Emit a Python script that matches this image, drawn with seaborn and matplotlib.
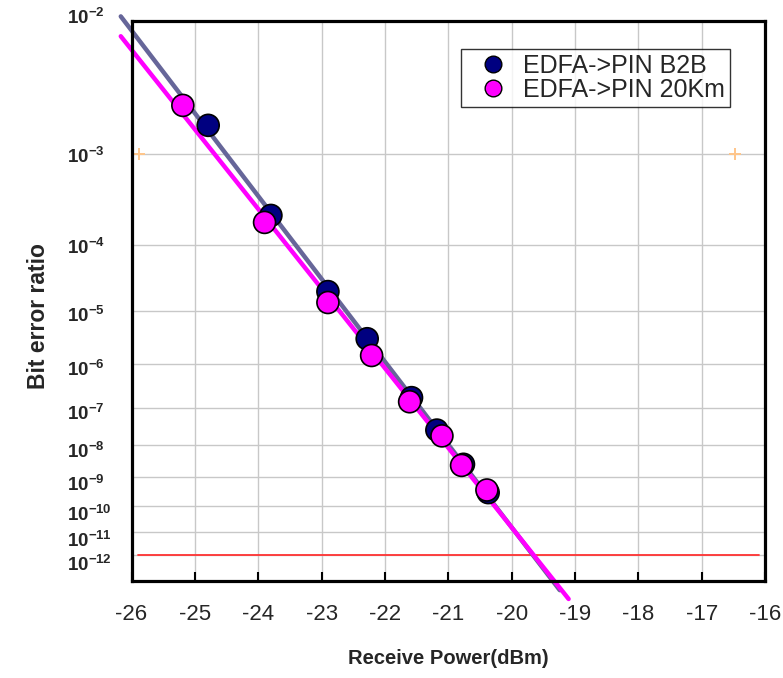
import numpy as np
import pandas as pd
import matplotlib
matplotlib.use("Agg")
import matplotlib.pyplot as plt
import matplotlib.transforms as mtransforms
from matplotlib.lines import Line2D
import seaborn as sns
from math import erfc, sqrt

# %%
# measured points read from the figure
power_b2b = [-24.79, -23.80, -22.90, -22.28, -21.58, -21.18, -20.76, -20.37]
ber_b2b = [1.8e-3, 2.3e-4, 2.1e-5, 3.2e-6, 1.76e-7, 2.6e-8, 2.6e-9, 3.0e-10]
power_20km = [-25.19, -23.90, -22.90, -22.21, -21.61, -21.10, -20.79, -20.39]
ber_20km = [2.6e-3, 1.9e-4, 1.4e-5, 1.5e-6, 1.4e-7, 1.8e-8, 2.4e-9, 3.7e-10]
series_names = ["EDFA->PIN B2B", "EDFA->PIN 20Km"]
series_colors = ["#000080", "#ff00ff"]
line_colors = ["#666699", "#ff00ff"]

# fit line extents (dBm)
fit_start = [-26.17, -26.17]
fit_end = [-19.24, -19.1]

x_ticks = list(range(-26, -15))
y_exps = list(range(2, 13))
ber_limit = 1e-12
limit_span = [-25.9, -16.1]
stray_x = [-25.885, -16.47]
stray_y = [1e-3, 1e-3]

# %%
# BER axis: -log10 of Q factor (increasing with BER)
q_grid = np.linspace(0.3, 12, 6000)
ber_grid = 0.5 * np.array([erfc(q / sqrt(2)) for q in q_grid])
v_erfc = np.vectorize(erfc)


def ber_to_t(b):
    b = np.clip(np.asarray(b, dtype=float), 1e-30, 0.45)
    q = np.interp(-np.log10(b), -np.log10(ber_grid), q_grid)
    return -np.log10(q)


def t_to_ber(t):
    q = 10 ** (-np.asarray(t, dtype=float))
    return 0.5 * v_erfc(q / sqrt(2))


# %%
df = pd.concat([
    pd.DataFrame({"power": power_b2b, "ber": ber_b2b, "series": series_names[0]}),
    pd.DataFrame({"power": power_20km, "ber": ber_20km, "series": series_names[1]}),
], ignore_index=True)

sns.set_theme(style="white")
plt.rcParams["font.family"] = ["Liberation Sans", "DejaVu Sans"]
plt.rcParams["mathtext.fontset"] = "custom"
plt.rcParams["mathtext.rm"] = "Liberation Sans"
plt.rcParams["mathtext.bf"] = "Liberation Sans:bold"

fig, ax = plt.subplots(figsize=(7.83, 6.78), dpi=100)
fig.subplots_adjust(left=0.168, right=0.977, top=0.9695, bottom=0.1435)

ax.set_yscale("function", functions=(ber_to_t, t_to_ber))

# fitted trend lines (straight in the Q scale)
for i, (pw, br) in enumerate([(power_b2b, ber_b2b), (power_20km, ber_20km)]):
    coef = np.polyfit(pw, ber_to_t(br), 1)
    xs = np.linspace(fit_start[i], fit_end[i], 60)
    fit_df = pd.DataFrame({"power": xs, "ber": t_to_ber(np.polyval(coef, xs))})
    sns.lineplot(data=fit_df, x="power", y="ber", color=line_colors[i],
                 lw=3.2, ax=ax, legend=False, zorder=2)
    ax.lines[-1].set_clip_on(False)

ax.plot(limit_span, [ber_limit, ber_limit], color="#ff3333", lw=1.3, zorder=1.5)
ax.plot(stray_x, stray_y, "+", color="#ffc58a", ms=8, mew=1.4, clip_on=False, zorder=1.5)

sns.scatterplot(data=df, x="power", y="ber", hue="series", palette=series_colors,
                s=250, edgecolor="black", linewidth=1.2, ax=ax, legend=False, zorder=3)

t_top, t_bot = -0.3707, -0.8703
ax.set_ylim(t_to_ber(t_bot), t_to_ber(t_top))
ax.set_xlim(-26, -16)

ax.set_xticks(x_ticks)
ax.set_xticklabels([str(v) for v in x_ticks], fontsize=16)
ax.set_yticks([10.0 ** -e for e in y_exps[1:]])
ax.set_yticklabels([])

# y labels drawn by hand, left aligned and sitting a little below the grid lines
for e in y_exps:
    off = 1.5 + 6.0 * (e - 2) / 10.0
    tr = mtransforms.offset_copy(ax.get_yaxis_transform(), fig=fig, y=-off, units="points")
    ax.text(-0.1017, 10.0 ** -e, r"$\mathbf{10^{-%d}}$" % e, fontsize=13.5,
            ha="left", va="center", transform=tr)

ax.tick_params(axis="y", length=0)
ax.tick_params(axis="x", direction="in", length=6.5, width=1.5, color="black",
               bottom=True, pad=17)
ax.grid(True, color="#c8c8c8", lw=1)
for sp in ax.spines.values():
    sp.set_color("black")
    sp.set_linewidth(2.3)

ax.set_xlabel("Receive Power(dBm)", fontsize=14.5, fontweight="bold")
ax.set_ylabel("Bit error ratio", fontsize=16.5, fontweight="bold")
ax.xaxis.set_label_coords(0.5, -0.122)
ax.yaxis.set_label_coords(-0.128, 0.473)

handles = [Line2D([], [], marker="o", ls="", ms=12, markerfacecolor=c,
                  markeredgecolor="black", markeredgewidth=1.0) for c in series_colors]
leg = ax.legend(handles, series_names, loc="upper right", bbox_to_anchor=(0.945, 0.949),
                fontsize=18, frameon=True, fancybox=False, edgecolor="black",
                borderaxespad=0, borderpad=0.2, labelspacing=0.0,
                handletextpad=0.15, handlelength=2.15)
leg.get_frame().set_linewidth(1.0)

fig.savefig("out.png", dpi=100)
